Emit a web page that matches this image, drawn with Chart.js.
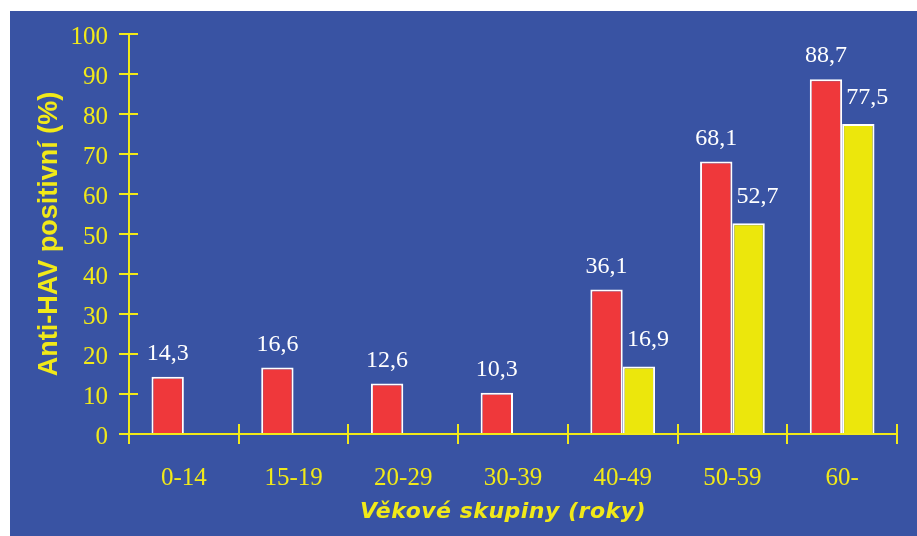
<!DOCTYPE html>
<html>
<head>
<meta charset="utf-8">
<script src="https://cdn.jsdelivr.net/npm/chart.js@4.4.1/dist/chart.umd.min.js"></script>
<style>
  html, body { margin: 0; padding: 0; background: #ffffff; }
  canvas { display: block; }
</style>
</head>
<body>
<canvas id="chart" width="917" height="536"></canvas>
<script>
// Age groups and anti-HAV positivity (%) for the two survey series
const ageGroups = ['0-14', '15-19', '20-29', '30-39', '40-49', '50-59', '60-'];
const seriesRed = [14.3, 16.6, 12.6, 10.3, 36.1, 68.1, 88.7];
const seriesYellow = [null, null, null, null, 16.9, 52.7, 77.5];
const yTickValues = [0, 10, 20, 30, 40, 50, 60, 70, 80, 90, 100];

const yAxisTitle = 'Anti-HAV positivní (%)';
const xAxisTitle = 'Věkové skupiny (roky)';

const BG = '#3953a3';
const RED = '#ef383b';
const YELLOW = '#ece70c';
const AXIS = '#f1e919';

const fmt = v => v.toFixed(1).replace('.', ',');

// Blue panel behind the plot
const panel = {
  id: 'panel',
  beforeDraw(chart) {
    const ctx = chart.ctx;
    ctx.save();
    ctx.fillStyle = BG;
    ctx.fillRect(10, 11, chart.width - 10, chart.height - 11);
    ctx.restore();
  }
};

// Tick marks that cross the axis lines (inner half)
const crossTicks = {
  id: 'crossTicks',
  afterDraw(chart) {
    const { ctx, chartArea } = chart;
    const x = chart.scales.x, y = chart.scales.y;
    ctx.save();
    ctx.strokeStyle = AXIS;
    ctx.lineWidth = 2;
    ctx.beginPath();
    yTickValues.forEach(v => {
      const py = Math.round(y.getPixelForValue(v));
      ctx.moveTo(chartArea.left, py);
      ctx.lineTo(chartArea.left + 9, py);
    });
    const half = (x.getPixelForValue(1) - x.getPixelForValue(0)) / 2;
    for (let i = 0; i <= ageGroups.length; i++) {
      const px = Math.round(x.getPixelForValue(i) - half);
      ctx.moveTo(px, chartArea.bottom);
      ctx.lineTo(px, chartArea.bottom - 10);
    }
    ctx.stroke();
    ctx.restore();
  }
};

// Value labels above the bars and the x axis title
const valueLabels = {
  id: 'valueLabels',
  afterDatasetsDraw(chart) {
    const ctx = chart.ctx;
    ctx.save();
    ctx.fillStyle = '#ffffff';
    ctx.font = '24px "Liberation Serif", "Times New Roman", serif';
    ctx.textAlign = 'center';
    ctx.textBaseline = 'alphabetic';
    chart.data.datasets.forEach((ds, di) => {
      const meta = chart.getDatasetMeta(di);
      meta.data.forEach((bar, i) => {
        const v = ds.data[i];
        if (v === null || v === undefined) return;
        const dx = di === 1 ? 9 : 0;
        const gap = di === 1 ? 20 : 17;
        ctx.fillText(fmt(v), bar.x + dx, bar.y - gap);
      });
    });
    ctx.restore();
  },
  afterDraw(chart) {
    const ctx = chart.ctx;
    ctx.save();
    ctx.fillStyle = AXIS;
    ctx.font = 'italic bold 22px "DejaVu Sans", sans-serif';
    ctx.letterSpacing = '0.5px';
    ctx.textAlign = 'center';
    ctx.textBaseline = 'middle';
    ctx.fillText(xAxisTitle, 503, 512);
    ctx.restore();
  }
};

new Chart(document.getElementById('chart'), {
  type: 'bar',
  data: {
    labels: ageGroups,
    datasets: [
      {
        data: seriesRed,
        backgroundColor: RED,
        borderColor: '#ffffff',
        borderWidth: 2,
        borderSkipped: 'bottom',
        categoryPercentage: 0.59,
        barPercentage: 1.0
      },
      {
        data: seriesYellow,
        backgroundColor: YELLOW,
        borderColor: '#ffffff',
        borderWidth: 2,
        borderSkipped: 'bottom',
        categoryPercentage: 0.59,
        barPercentage: 1.0
      }
    ]
  },
  options: {
    responsive: false,
    animation: false,
    events: [],
    layout: { padding: { left: 0, right: 20, top: 34, bottom: 0 } },
    plugins: { legend: { display: false }, tooltip: { enabled: false } },
    scales: {
      x: {
        offset: true,
        grid: {
          display: true,
          offset: true,
          drawOnChartArea: false,
          drawTicks: true,
          tickLength: 10,
          color: AXIS,
          lineWidth: 2
        },
        border: { display: true, color: AXIS, width: 2 },
        ticks: {
          color: AXIS,
          padding: 19,
          font: { family: '"Liberation Serif", "Times New Roman", serif', size: 25 }
        },
        afterFit(scale) { scale.height = 102; }
      },
      y: {
        min: 0,
        max: 100,
        afterBuildTicks(scale) { scale.ticks = yTickValues.map(v => ({ value: v })); },
        grid: {
          display: true,
          drawOnChartArea: false,
          drawTicks: true,
          tickLength: 10,
          color: AXIS,
          lineWidth: 2
        },
        border: { display: true, color: AXIS, width: 2 },
        ticks: {
          color: AXIS,
          padding: 11,
          labelOffset: 3,
          font: { family: '"Liberation Serif", "Times New Roman", serif', size: 25 }
        },
        title: {
          display: true,
          text: yAxisTitle,
          color: AXIS,
          font: { family: '"Liberation Sans", Arial, sans-serif', size: 27, weight: 'bold' },
          padding: { top: 33, bottom: 0 }
        },
        afterFit(scale) { scale.width = 129; }
      }
    }
  },
  plugins: [panel, crossTicks, valueLabels]
});
</script>
</body>
</html>
